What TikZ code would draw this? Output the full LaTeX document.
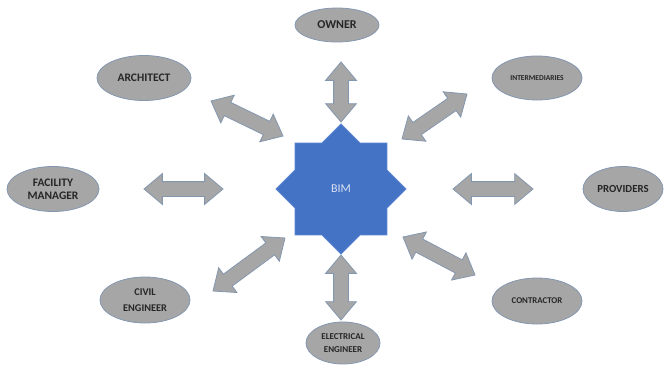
\documentclass[tikz,border=0pt]{standalone}
\usepackage{fontspec}
\setmainfont{Carlito}
\usetikzlibrary{shapes.geometric,shapes.arrows,calc}

\begin{document}
\begin{tikzpicture}[x=1pt, y=-1pt,
  party/.style={ellipse, draw=partyborder, fill=partyshell, line width=0.8pt,
    inner sep=0pt, font=\bfseries, text=partytext, align=center},
  linkarrow/.style={double arrow, draw=partyborder, fill=partyshell, line width=0.8pt,
    inner xsep=0pt, inner ysep=7pt, double arrow head extend=8pt,
    double arrow tip angle=80}]
  % Define colors
  \definecolor{partyshell}{HTML}{A6A6A6}
  \definecolor{partyborder}{HTML}{8497B0}
  \definecolor{partytext}{HTML}{262626}
  \definecolor{bimshell}{HTML}{4472C4}
  \definecolor{bimborder}{HTML}{5B86CF}
  \definecolor{bimtext}{HTML}{DCE3F2}

  % Canvas
  \useasboundingbox (0,0) rectangle (671,365);

  % BIM (Core)
  \node[star, star points=8, star point ratio=1.307, minimum size=130pt, inner sep=0pt,
    fill=bimshell, draw=bimborder, line width=0.8pt, text=bimtext,
    font=\fontsize{12}{12}\selectfont] (bim) at (341,189) {BIM};

  % Stakeholders
  \node[party, minimum width=84pt, minimum height=34pt, font=\bfseries\fontsize{12}{12}\selectfont]
    (owner) at (337,25) {OWNER};
  \node[party, minimum width=94pt, minimum height=45pt, font=\bfseries\fontsize{11.5}{12}\selectfont]
    (architect) at (144,78) {ARCHITECT};
  \node[party, minimum width=90pt, minimum height=44pt, font=\bfseries\fontsize{7.5}{8}\selectfont]
    (intermediaries) at (537,78) {INTERMEDIARIES};
  \node[party, minimum width=92pt, minimum height=45pt, font=\bfseries\fontsize{11.5}{12.7}\selectfont]
    (facility) at (53,189) {FACILITY\\ MANAGER};
  \node[party, minimum width=80pt, minimum height=45pt, font=\bfseries\fontsize{10.8}{12}\selectfont]
    (providers) at (623,189) {PROVIDERS};
  \node[party, minimum width=90pt, minimum height=46pt, font=\bfseries\fontsize{10.3}{16.5}\selectfont]
    (civil) at (145,300) {CIVIL\\ ENGINEER};
  \node[party, minimum width=74pt, minimum height=42pt, font=\bfseries\fontsize{9}{13.6}\selectfont]
    (electrical) at (343,343) {ELECTRICAL\\ ENGINEER};
  \node[party, minimum width=90pt, minimum height=46pt, font=\bfseries\fontsize{8.8}{10}\selectfont]
    (contractor) at (537,301) {CONTRACTOR};

  % Arrow end points
  \coordinate (nA) at (341,62);   \coordinate (nB) at (341,122);
  \coordinate (sA) at (341,255);  \coordinate (sB) at (341,320);
  \coordinate (wA) at (144,189);  \coordinate (wB) at (223,189);
  \coordinate (eA) at (453,189);  \coordinate (eB) at (533,189);
  \coordinate (nwA) at (211,101); \coordinate (nwB) at (283,136);
  \coordinate (neA) at (402,139); \coordinate (neB) at (467,94);
  \coordinate (swA) at (213,291); \coordinate (swB) at (285,238);
  \coordinate (seA) at (403,237); \coordinate (seB) at (475,275);

  % Connect BIM with the stakeholders
  \foreach \a/\b in {nA/nB, sA/sB, wA/wB, eA/eB, nwA/nwB, neA/neB, swA/swB, seA/seB}
    \path let \p1 = ($(\b)-(\a)$), \n1 = {veclen(\x1,\y1)} in
      (\a) -- (\b) node[linkarrow, midway, sloped, minimum height=\n1] (\a-\b) {};

\end{tikzpicture}
\end{document}
